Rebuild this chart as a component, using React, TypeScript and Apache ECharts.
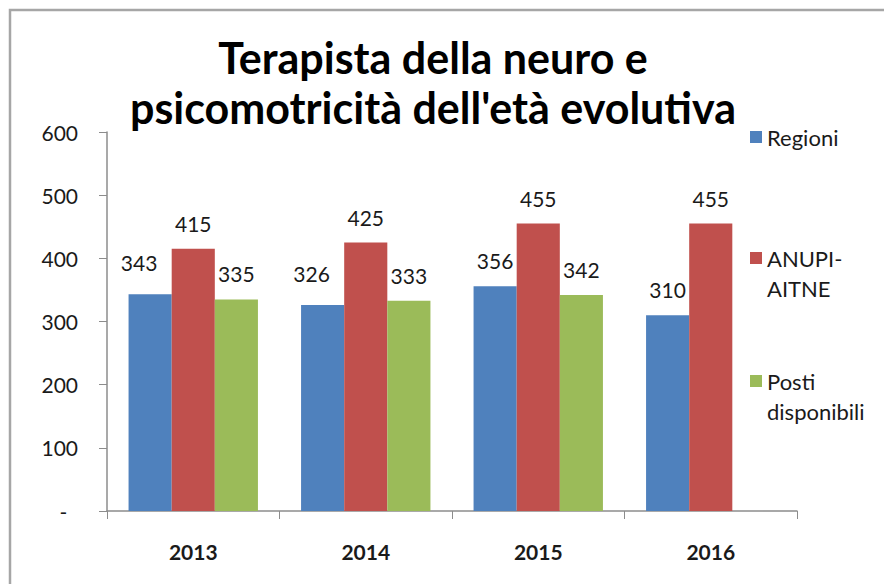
import React, { useEffect, useRef } from "react";
import * as echarts from "echarts";

const categories = ["2013", "2014", "2015", "2016"];
const regioni = [343, 326, 356, 310];
const anupi = [415, 425, 455, 455];
const posti: (number | null)[] = [335, 333, 342, null];
const seriesNames = ["Regioni", "ANUPI-AITNE", "Posti disponibili"];
const titleText = "Terapista della neuro e\npsicomotricità dell'età evolutiva";

const FONT = "Lato";
const TXT = "#1a1a1a";

export default function App() {
  const ref = useRef<HTMLDivElement>(null);
  useEffect(() => {
    if (!ref.current) return;
    const chart = echarts.init(ref.current, null, { renderer: "svg" });
    const label = {
      show: true,
      position: "top" as const,
      distance: 15,
      fontSize: 21,
      fontFamily: FONT,
      color: TXT,
    };
    const legendBase = {
      orient: "vertical" as const,
      left: 750,
      padding: 0,
      itemWidth: 12,
      itemHeight: 12,
      icon: "rect",
    };
    const legendText = { fontFamily: FONT, fontSize: 22, color: TXT, lineHeight: 30 };
    // Excel nudged the first blue labels left/up to avoid overlapping
    const regioniData = regioni.map((v, i) =>
      i < 2 ? { value: v, label: { offset: [-11, -6] } } : v
    );
    chart.setOption({
      animation: false,
      color: ["#4F81BD", "#C0504D", "#9BBB59"],
      title: {
        text: titleText,
        left: 433,
        textAlign: "center",
        top: 32,
        padding: 0,
        textStyle: {
          fontFamily: FONT,
          fontWeight: "bold",
          fontSize: 43,
          lineHeight: 50,
          color: "#000",
        },
      },
      legend: [
        {
          ...legendBase,
          top: 122,
          data: [seriesNames[0]],
          textStyle: legendText,
        },
        {
          ...legendBase,
          top: 213,
          data: [seriesNames[1]],
          formatter: () => "\nANUPI-\nAITNE",
          textStyle: legendText,
        },
        {
          ...legendBase,
          top: 336,
          data: [seriesNames[2]],
          formatter: () => "\nPosti\ndisponibili",
          textStyle: legendText,
        },
      ],
      grid: { left: 107, right: 87, top: 132, bottom: 73, containLabel: false },
      xAxis: {
        type: "category",
        data: categories,
        axisLine: { lineStyle: { color: "#8c8c8c", width: 1.5 } },
        axisTick: { show: true, length: 8, lineStyle: { color: "#8c8c8c" } },
        axisLabel: {
          margin: 30,
          fontFamily: FONT,
          fontWeight: "bold",
          fontSize: 21,
          color: TXT,
        },
      },
      yAxis: {
        type: "value",
        min: 0,
        max: 600,
        interval: 100,
        axisLine: { show: true, lineStyle: { color: "#8c8c8c", width: 1.5 } },
        axisTick: { show: true, length: 8, lineStyle: { color: "#8c8c8c" } },
        splitLine: { show: false },
        axisLabel: {
          margin: 29,
          fontFamily: FONT,
          fontSize: 21,
          color: TXT,
          formatter: (v: number) => (v === 0 ? "-  " : String(v)),
        },
      },
      graphic: [
        {
          type: "rect",
          shape: { x: 10, y: 10, width: 1000, height: 1000 },
          style: { fill: "none", stroke: "#a6a6a6", lineWidth: 2.5 },
          silent: true,
        },
      ],
      series: [
        { name: seriesNames[0], type: "bar", data: regioniData, barGap: "0%", barCategoryGap: "25%", label },
        { name: seriesNames[1], type: "bar", data: anupi, barGap: "0%", barCategoryGap: "25%", label },
        { name: seriesNames[2], type: "bar", data: posti, barGap: "0%", barCategoryGap: "25%", label },
      ],
    });
    return () => chart.dispose();
  }, []);
  return (
    <div
      ref={ref}
      style={{ position: "fixed", left: 0, top: 0, width: 884, height: 584, background: "#fff" }}
    />
  );
}
